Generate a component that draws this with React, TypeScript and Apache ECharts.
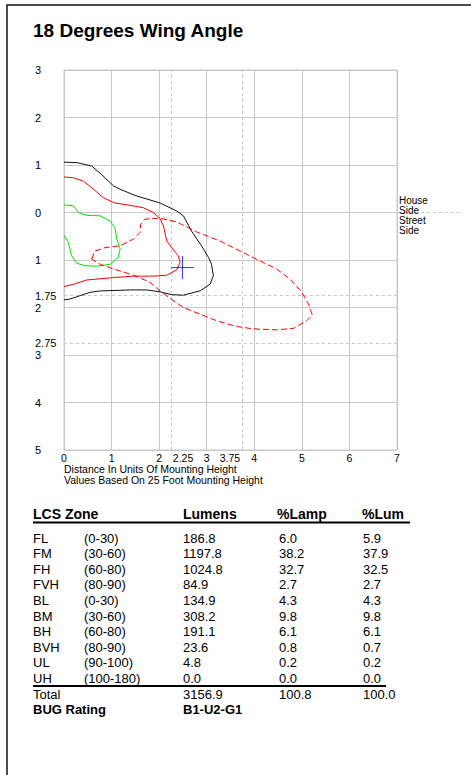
import React, { useEffect, useRef } from "react";
import * as echarts from "echarts";

// ---- axis ticks ----
const xExtraTicks = [2.25, 3.75];
const yExtraTicks = [-1.75, -2.75];

// ---- contours (x: distance, y: + house side / - street side) ----
const contour01: number[][] = [
  [0, 1.06], [0.27, 1.05], [0.58, 0.98], [0.79, 0.8], [1.04, 0.56], [1.18, 0.49], [1.49, 0.36],
  [2.02, 0.2], [2.37, 0.03], [2.51, -0.07], [2.68, -0.39], [2.89, -0.7], [3.04, -0.95], [3.1, -1.09],
  [3.14, -1.33], [3.07, -1.51], [2.86, -1.65], [2.51, -1.74], [2.26, -1.73], [2.02, -1.67],
  [1.74, -1.63], [1.4, -1.63], [0.77, -1.65], [0.55, -1.68], [0.34, -1.75], [0.13, -1.82], [0, -1.84],
];
const contour02: number[][] = [
  [0, 0.75], [0.2, 0.73], [0.41, 0.66], [0.62, 0.49], [0.83, 0.31], [1.07, 0.2], [1.39, 0.15],
  [1.67, 0.1], [1.88, 0.0], [2.02, -0.13], [2.09, -0.28], [2.16, -0.6], [2.34, -0.84], [2.4, -0.91],
  [2.44, -1.05], [2.37, -1.21], [2.16, -1.32], [1.88, -1.34], [1.46, -1.34], [1.04, -1.37],
  [0.48, -1.42], [0.2, -1.51], [0, -1.56],
];
const contour05: number[][] = [
  [0, 0.16], [0.2, 0.14], [0.3, 0.0], [0.48, -0.06], [0.76, -0.07], [0.97, -0.18], [1.07, -0.32],
  [1.11, -0.56], [1.18, -0.77], [1.14, -0.95], [0.97, -1.09], [0.69, -1.13], [0.44, -1.12],
  [0.27, -1.07], [0.16, -0.91], [0.09, -0.63], [0, -0.48],
];
const contourHalfMax: number[][] = [
  [0.58, -0.98], [0.65, -0.81], [0.86, -0.74], [1.18, -0.7], [1.46, -0.56], [1.6, -0.42],
  [1.61, -0.25], [1.7, -0.14], [2.02, -0.12], [2.37, -0.2], [2.79, -0.41], [3.28, -0.6],
  [3.98, -0.95], [4.47, -1.19], [4.75, -1.4], [5.0, -1.68], [5.14, -1.93], [5.22, -2.16],
  [5.1, -2.28], [4.82, -2.44], [4.47, -2.47], [3.98, -2.45], [3.63, -2.4], [3.21, -2.28],
  [2.86, -2.14], [2.51, -2.0], [2.23, -1.81], [2.02, -1.65], [1.81, -1.47], [1.46, -1.32],
  [1.04, -1.19], [0.76, -1.09], [0.58, -0.98],
];
const maxCandelaPoint: number[] = [2.49, -1.16];
const contourLabelPos: number[][] = [
  [0.18, -1.96],
  [0.15, 0.57],
  [0.29, -0.96],
];
const contourLabelText = [".1", ".2", ".5"];

// ---- LCS table ----
const zones = ["FL", "FM", "FH", "FVH", "BL", "BM", "BH", "BVH", "UL", "UH"];
const zoneRanges = ["(0-30)", "(30-60)", "(60-80)", "(80-90)", "(0-30)", "(30-60)", "(60-80)", "(80-90)", "(90-100)", "(100-180)"];
const lumens = [186.8, 1197.8, 1024.8, 84.9, 134.9, 308.2, 191.1, 23.6, 4.8, 0.0];
const pctLamp = [6.0, 38.2, 32.7, 2.7, 4.3, 9.8, 6.1, 0.8, 0.2, 0.0];
const pctLum = [5.9, 37.9, 32.5, 2.7, 4.3, 9.8, 6.1, 0.7, 0.2, 0.0];
const totalValues = [3156.9, 100.8, 100.0];
const bugRating = "B1-U2-G1";

const FONT = "'Liberation Sans', Arial, sans-serif";
const NARROW = "'Liberation Sans Narrow', 'Liberation Sans', Arial, sans-serif";
const GRID_COLOR = "#c8c8c8";

export default function App() {
  const ref = useRef<HTMLDivElement | null>(null);

  useEffect(() => {
    if (!ref.current) return;
    const chart = echarts.init(ref.current, null, { renderer: "svg" });

    const lineSeries = (data: number[][], color: string, dashed: boolean) => ({
      type: "line",
      data,
      symbol: "none",
      showSymbol: false,
      silent: true,
      clip: false,
      lineStyle: { color, width: 1, type: dashed ? [6, 3] : "solid" },
      z: 5,
    });

    const option: any = {
      animation: false,
      backgroundColor: "#ffffff",
      grid: { left: 64, top: 70, width: 333, height: 380, show: true, borderColor: GRID_COLOR, borderWidth: 1, backgroundColor: "#ffffff" },
      xAxis: [
        {
          type: "value", min: 0, max: 7, interval: 1, position: "bottom",
          axisLine: { show: false }, axisTick: { show: false },
          splitLine: { show: true, lineStyle: { color: GRID_COLOR, width: 1 } },
          axisLabel: { color: "#000", fontSize: 10.5, fontFamily: FONT, margin: 2 },
        },
        {
          type: "value", min: 0, max: 7, position: "bottom",
          axisLine: { show: false }, axisTick: { show: false }, splitLine: { show: false },
          axisLabel: {
            customValues: xExtraTicks, color: "#000", fontSize: 10.5, fontFamily: FONT, margin: 2,
            formatter: (v: number) => (v < 3 ? "{r|" + v + "}" : "{l|" + v + "}"),
            rich: {
              r: { padding: [0, 0, 0, 24], fontSize: 10.5, fontFamily: FONT, color: "#000" },
              l: { padding: [0, 25, 0, 0], fontSize: 10.5, fontFamily: FONT, color: "#000" },
            },
          },
        },
      ],
      yAxis: [
        {
          type: "value", min: -5, max: 3, interval: 1, position: "left",
          axisLine: { show: false }, axisTick: { show: false },
          splitLine: { show: true, lineStyle: { color: GRID_COLOR, width: 1 } },
          axisLabel: {
            color: "#000", fontSize: 11, fontFamily: FONT, margin: 29, align: "left",
            padding: [4, 0, 0, 0],
            formatter: (v: number) => String(Math.abs(v)),
          },
        },
        {
          type: "value", min: -5, max: 3, position: "left",
          axisLine: { show: false }, axisTick: { show: false }, splitLine: { show: false },
          axisLabel: {
            customValues: yExtraTicks, color: "#000", fontSize: 11, fontFamily: FONT, margin: 29, align: "left",
            formatter: (v: number) => String(Math.abs(v)),
          },
        },
      ],
      series: [
        {
          type: "line",
          data: [],
          silent: true,
          z: 2,
          markLine: {
            silent: true,
            symbol: ["none", "none"],
            label: { show: false },
            lineStyle: { color: GRID_COLOR, width: 1, type: [3, 3] },
            data: [
              ...xExtraTicks.map((v) => ({ xAxis: v })),
              ...yExtraTicks.map((v) => ({ yAxis: v })),
            ],
          },
        },
        lineSeries(contour01, "#111111", false),
        lineSeries(contour02, "#ff0000", false),
        lineSeries(contour05, "#00e600", false),
        lineSeries(contourHalfMax, "#ff0000", true),
        {
          type: "scatter",
          data: [maxCandelaPoint],
          symbol: "path://M10 0 L10 20 M0 10 L20 10",
          symbolSize: 23,
          silent: true,
          itemStyle: { color: "rgba(0,0,0,0)", borderColor: "#0000ff", borderWidth: 1 },
          z: 6,
        },
        {
          type: "scatter",
          symbolSize: 1,
          silent: true,
          itemStyle: { opacity: 0 },
          z: 7,
          data: contourLabelPos.map((p, i) => ({
            value: p,
            label: {
              show: true,
              position: "inside",
              formatter: contourLabelText[i],
              color: ["#000000", "#ff0000", "#00e600"][i],
              fontSize: 11,
              fontFamily: FONT,
            },
          })),
        },
      ],
    };
    chart.setOption(option);

    const zeroRight = chart.convertToPixel({ gridIndex: 0 }, [7, 0]) as number[];
    const gridLeftBottom = chart.convertToPixel({ gridIndex: 0 }, [0, -5]) as number[];

    const graphics: any[] = [];
    // frame
    graphics.push({
      type: "rect", shape: { x: 7, y: 5, width: 480, height: 800 },
      style: { fill: "none", stroke: "#111", lineWidth: 1.5 }, silent: true,
    });
    // title
    graphics.push({
      type: "text", x: 33, y: 30,
      style: { text: "18 Degrees Wing Angle", font: "bold 19px " + FONT, fill: "#000", verticalAlign: "middle" },
    });
    // house / street separator
    graphics.push({
      type: "line", shape: { x1: zeroRight[0], y1: zeroRight[1], x2: 460, y2: zeroRight[1] },
      style: { stroke: GRID_COLOR, lineWidth: 1, lineDash: [3, 3] }, silent: true,
    });
    ["House", "Side", "Street", "Side"].forEach((t, i) => {
      graphics.push({
        type: "text", x: zeroRight[0] + 2, y: zeroRight[1] - 12 + i * 10,
        style: { text: t, font: "10px " + NARROW, fill: "#000", verticalAlign: "middle" },
      });
    });
    // axis captions
    ["Distance In Units Of Mounting Height", "Values Based On 25 Foot Mounting Height"].forEach((t, i) => {
      graphics.push({
        type: "text", x: gridLeftBottom[0], y: gridLeftBottom[1] + 19 + i * 11,
        style: { text: t, font: "10.5px " + NARROW, fill: "#000", verticalAlign: "middle" },
      });
    });

    // table
    const colX = [33, 84, 183, 279, 363];
    const headerY = 514;
    const row0 = 538;
    const rowH = 15.6;
    const headers: [string, number][] = [["LCS Zone", 33], ["Lumens", 183], ["%Lamp", 277], ["%Lum", 362]];
    headers.forEach(([t, x]) => {
      graphics.push({ type: "text", x, y: headerY, style: { text: t, font: "bold 14px " + FONT, fill: "#000", verticalAlign: "middle" } });
    });
    graphics.push({ type: "line", shape: { x1: 33, y1: headerY + 8.5, x2: 410, y2: headerY + 8.5 }, style: { stroke: "#000", lineWidth: 2 } });
    zones.forEach((z, i) => {
      const y = row0 + i * rowH;
      const cells = [z, zoneRanges[i], lumens[i].toFixed(1), pctLamp[i].toFixed(1), pctLum[i].toFixed(1)];
      cells.forEach((c, j) => {
        graphics.push({ type: "text", x: colX[j], y, style: { text: c, font: "13px " + FONT, fill: "#000", verticalAlign: "middle" } });
      });
    });
    const lastY = row0 + (zones.length - 1) * rowH;
    graphics.push({ type: "line", shape: { x1: 33, y1: lastY + 7.5, x2: 386, y2: lastY + 7.5 }, style: { stroke: "#000", lineWidth: 2 } });
    const totalY = lastY + rowH;
    graphics.push({ type: "text", x: colX[0], y: totalY, style: { text: "Total", font: "13px " + FONT, fill: "#000", verticalAlign: "middle" } });
    totalValues.forEach((v, j) => {
      graphics.push({ type: "text", x: colX[j + 2], y: totalY, style: { text: v.toFixed(1), font: "13px " + FONT, fill: "#000", verticalAlign: "middle" } });
    });
    const bugY = totalY + rowH;
    graphics.push({ type: "text", x: colX[0], y: bugY, style: { text: "BUG Rating", font: "bold 13px " + FONT, fill: "#000", verticalAlign: "middle" } });
    graphics.push({ type: "text", x: colX[2], y: bugY, style: { text: bugRating, font: "bold 13px " + FONT, fill: "#000", verticalAlign: "middle" } });

    chart.setOption({ graphic: graphics });

    return () => chart.dispose();
  }, []);

  return <div ref={ref} style={{ position: "fixed", left: 0, top: 0, width: 471, height: 775, background: "#fff" }} />;
}
